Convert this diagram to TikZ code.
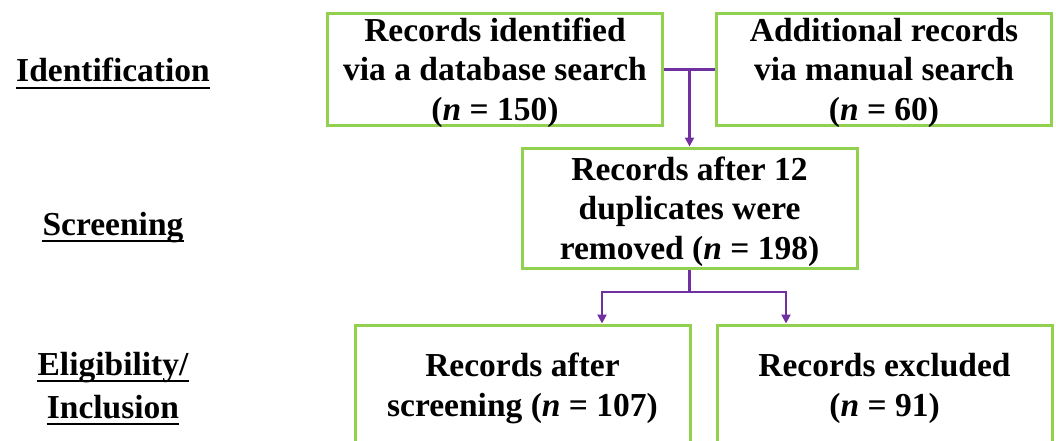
\documentclass[tikz,border=0pt]{standalone}
\usepackage{fontspec}
\setmainfont{Liberation Serif}
\usetikzlibrary{arrows.meta,calc}
\definecolor{boxgreen}{HTML}{92D050}
\definecolor{linkpurple}{HTML}{7030A0}
\begin{document}
\begin{tikzpicture}[x=1pt,y=-1pt,
  box/.style={draw=boxgreen,line width=3pt,minimum width=335pt,inner sep=0pt},
  txt/.style={font=\fontsize{33.5}{39.5}\selectfont\bfseries,align=center,inner sep=0pt},
  hd/.style={font=\fontsize{33.5}{39.5}\selectfont\bfseries,inner sep=0pt,anchor=base},
  conn/.style={draw=linkpurple,line width=2.5pt},
  arr/.style={conn,-{Triangle[length=9pt,width=9pt]}},
  ul/.style={line width=2.5pt}]
\clip (0,0) rectangle (1056,441);
% boxes
\node[box,minimum height=111pt] (A) at (495,69.5) {};
\node[box,minimum height=111pt] (B) at (884,69.5) {};
\node[box,minimum height=120pt] (C) at (689.5,208) {};
\node[box,minimum height=150pt] (D) at (522.5,400) {};
\node[box,minimum height=150pt] (E) at (884.5,400) {};
% box texts
\node[txt] (tA) at (495,72.9) {\strut Records identified\\\strut via a database search\\\strut(\textit{n} = 150)};
\node[txt] (tB) at (884,72.9) {\strut Additional records\\\strut via manual search\\\strut(\textit{n} = 60)};
\node[txt] (tC) at (689.5,211.8) {\strut Records after 12\\\strut duplicates were\\\strut removed (\textit{n} = 198)};
\node[txt] (tD) at (522.5,388.8) {\strut Records after\\\strut screening (\textit{n} = 107)};
\node[txt] (tE) at (884.5,388.8) {\strut Records excluded\\\strut(\textit{n} = 91)};
% stage labels
\node[hd] (l1) at (113,82) {Identification};
\node[hd] (l2) at (113,235) {Screening};
\node[hd] (l3) at (113,375) {Eligibility/};
\node[hd] (l4) at (113,418) {Inclusion};
\foreach \n in {l1,l2,l3,l4}
  \draw[ul] ($(\n.base west)+(0,6)$) -- ($(\n.base east)+(0,6)$);
% connectors
\coordinate (j1) at ($(A.east)!0.5!(B.west)$);
\draw[conn] (A.east) -- (B.west);
\draw[arr] (j1) -- (j1 |- C.north);
\coordinate (s1) at (602,292);
\coordinate (s2) at (786,292);
\draw[arr] (C.south) -- (C.south |- s1) -| (s1 |- D.north);
\draw[arr] (C.south |- s1) -| (s2 |- E.north);
\end{tikzpicture}
\end{document}
